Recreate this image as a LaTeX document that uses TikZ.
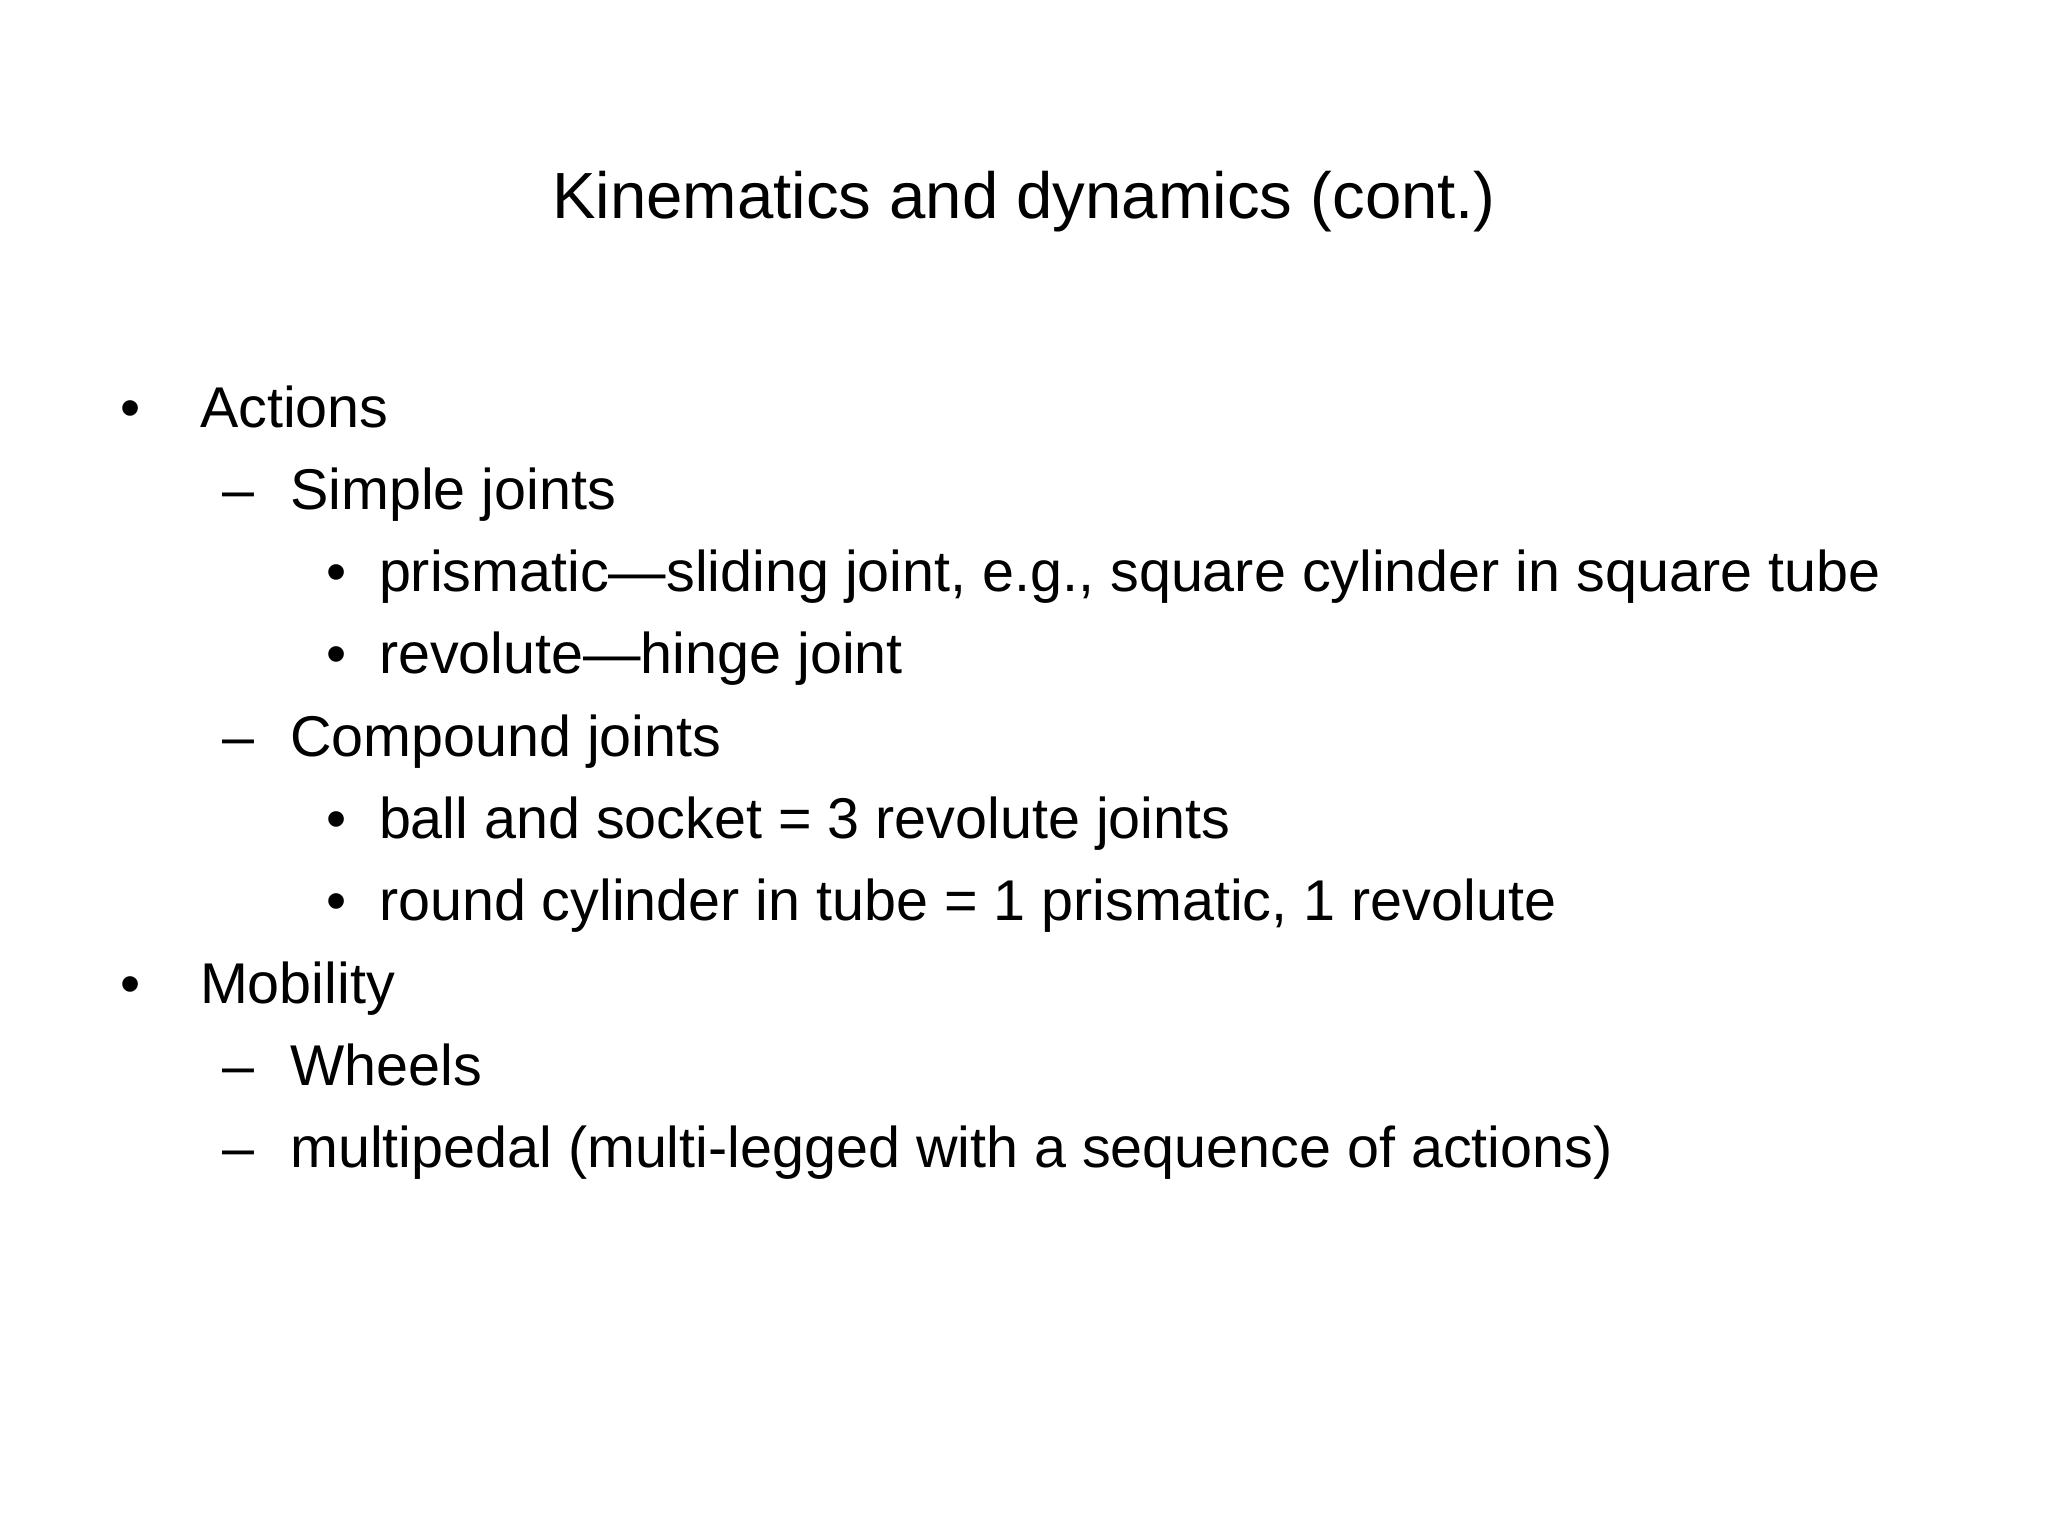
\documentclass[tikz,border=0pt]{standalone}
\usepackage{fontspec}
\setmainfont{Liberation Sans}
\begin{document}
\begin{tikzpicture}[x=1pt,y=-1pt,
  txt/.style={anchor=base west,inner sep=0pt,font=\fontsize{44}{50}\selectfont},
  ttl/.style={anchor=base,inner sep=0pt,font=\fontsize{50}{56}\selectfont}]
\fill[white] (0,0) rectangle (1568,1176);
\node[ttl] (title) at (784,167) {Kinematics and dynamics (cont.)};
\node[txt] (b1) at (92,327) {•};
\node[txt] (t1) at (153,327) {Actions};
\node[txt] (d1) at (170,390) {–};
\node[txt] (t2) at (222,390) {Simple joints};
\node[txt] (b3) at (250,453) {•};
\node[txt] (t3) at (290,453) {prismatic—sliding joint, e.g., square cylinder in square tube};
\node[txt] (b4) at (250,516) {•};
\node[txt] (t4) at (290,516) {revolute—hinge joint};
\node[txt] (d2) at (170,579) {–};
\node[txt] (t5) at (222,579) {Compound joints};
\node[txt] (b6) at (250,642) {•};
\node[txt] (t6) at (290,642) {ball and socket = 3 revolute joints};
\node[txt] (b7) at (250,705) {•};
\node[txt] (t7) at (290,705) {round cylinder in tube = 1 prismatic, 1 revolute};
\node[txt] (b8) at (92,768) {•};
\node[txt] (t8) at (153,768) {Mobility};
\node[txt] (d3) at (170,831) {–};
\node[txt] (t9) at (222,831) {Wheels};
\node[txt] (d4) at (170,894) {–};
\node[txt] (t10) at (222,894) {multipedal (multi-legged with a sequence of actions)};
\end{tikzpicture}
\end{document}
